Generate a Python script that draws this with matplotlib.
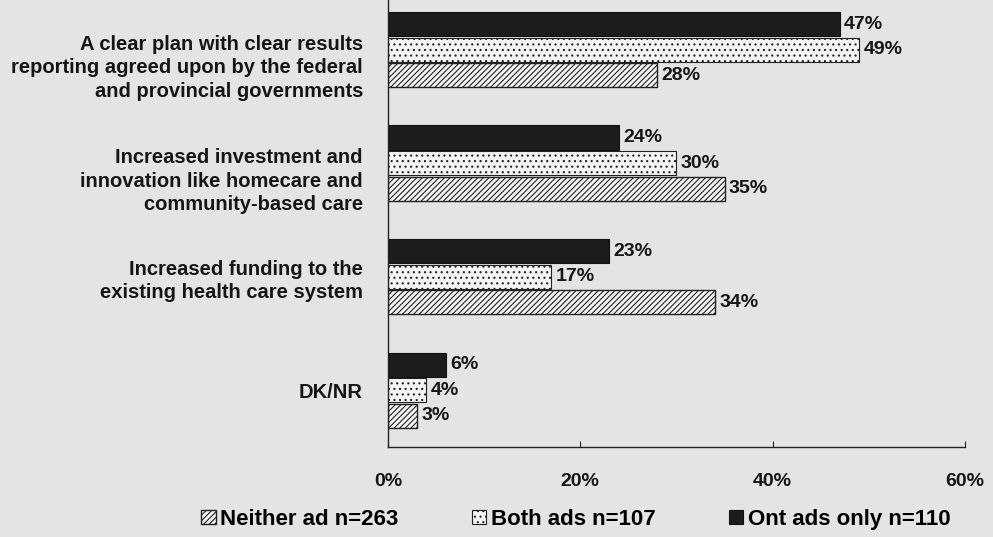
import numpy as np
import matplotlib.pyplot as plt
from matplotlib.transforms import ScaledTranslation

# survey answers, top to bottom
categories = [
    "A clear plan with clear results\nreporting agreed upon by the federal\nand provincial governments",
    "Increased investment and\ninnovation like homecare and\ncommunity-based care",
    "Increased funding to the\nexisting health care system",
    "DK/NR",
]
ont_only = [47, 24, 23, 6]
both_ads = [49, 30, 17, 4]
neither = [28, 35, 34, 3]

series_names = ["Neither ad n=263", "Both ads n=107", "Ont ads only n=110"]
xticks = [0, 20, 40, 60]

plt.rcParams['font.family'] = ['Liberation Sans', 'DejaVu Sans']
plt.rcParams['font.weight'] = 'bold'
plt.rcParams['hatch.linewidth'] = 0.8

bg = '#e4e4e4'
ink = '#151515'
fig = plt.figure(figsize=(9.93, 5.37), dpi=100, facecolor=bg)
ax = fig.add_axes([0.3907, 0.1676, 0.581, 0.8455])
ax.set_facecolor(bg)

y = np.arange(len(categories))
h = 0.215
step = 0.225

b_ont = ax.barh(y - step, ont_only, height=h, color='#1c1c1c', edgecolor='#111111', linewidth=0.8)
b_both = ax.barh(y, both_ads, height=h, color='#f4f4f4', edgecolor='#222222', linewidth=0.8, hatch='...')
b_nei = ax.barh(y + step, neither, height=h, color='#f4f4f4', edgecolor='#222222', linewidth=1.0, hatch='//////')

for bars, vals in [(b_ont, ont_only), (b_both, both_ads), (b_nei, neither)]:
    for bar, v in zip(bars, vals):
        ax.text(v + 0.45, bar.get_y() + bar.get_height() / 2, f"{v}%",
                va='center', ha='left', fontsize=14, fontweight='bold', color=ink)

ax.set_ylim(3.5, -0.5)
ax.set_xlim(0, 60)
ax.set_yticks(y)
ax.set_yticklabels(categories, fontsize=14.5, fontweight='bold', color=ink, linespacing=1.3)
ax.tick_params(axis='y', length=0, pad=18)
# the three-line labels sit a little lower than their bar groups
for lab in ax.get_yticklabels():
    n = lab.get_text().count("\n")
    dy = -10 / 72 if n == 2 else 0
    lab.set_transform(lab.get_transform() + ScaledTranslation(0, dy, fig.dpi_scale_trans))

ax.set_xticks(xticks)
ax.set_xticklabels([f"{t}%" for t in xticks], fontsize=14, fontweight='bold', color=ink)
ax.tick_params(axis='x', length=4, direction='in', pad=19, color='#222222')

for s in ['top', 'right']:
    ax.spines[s].set_visible(False)
for s in ['left', 'bottom']:
    ax.spines[s].set_color('#222222')
    ax.spines[s].set_linewidth(1.0)

fig.legend([b_nei[0], b_both[0], b_ont[0]], series_names, loc='center',
           bbox_to_anchor=(0.58, 0.033), ncol=3, frameon=False,
           handlelength=0.65, handleheight=0.65, handletextpad=0.2,
           columnspacing=3.3, prop={'size': 16, 'weight': 'bold'})

fig.savefig('out.png', dpi=100, facecolor=bg)
